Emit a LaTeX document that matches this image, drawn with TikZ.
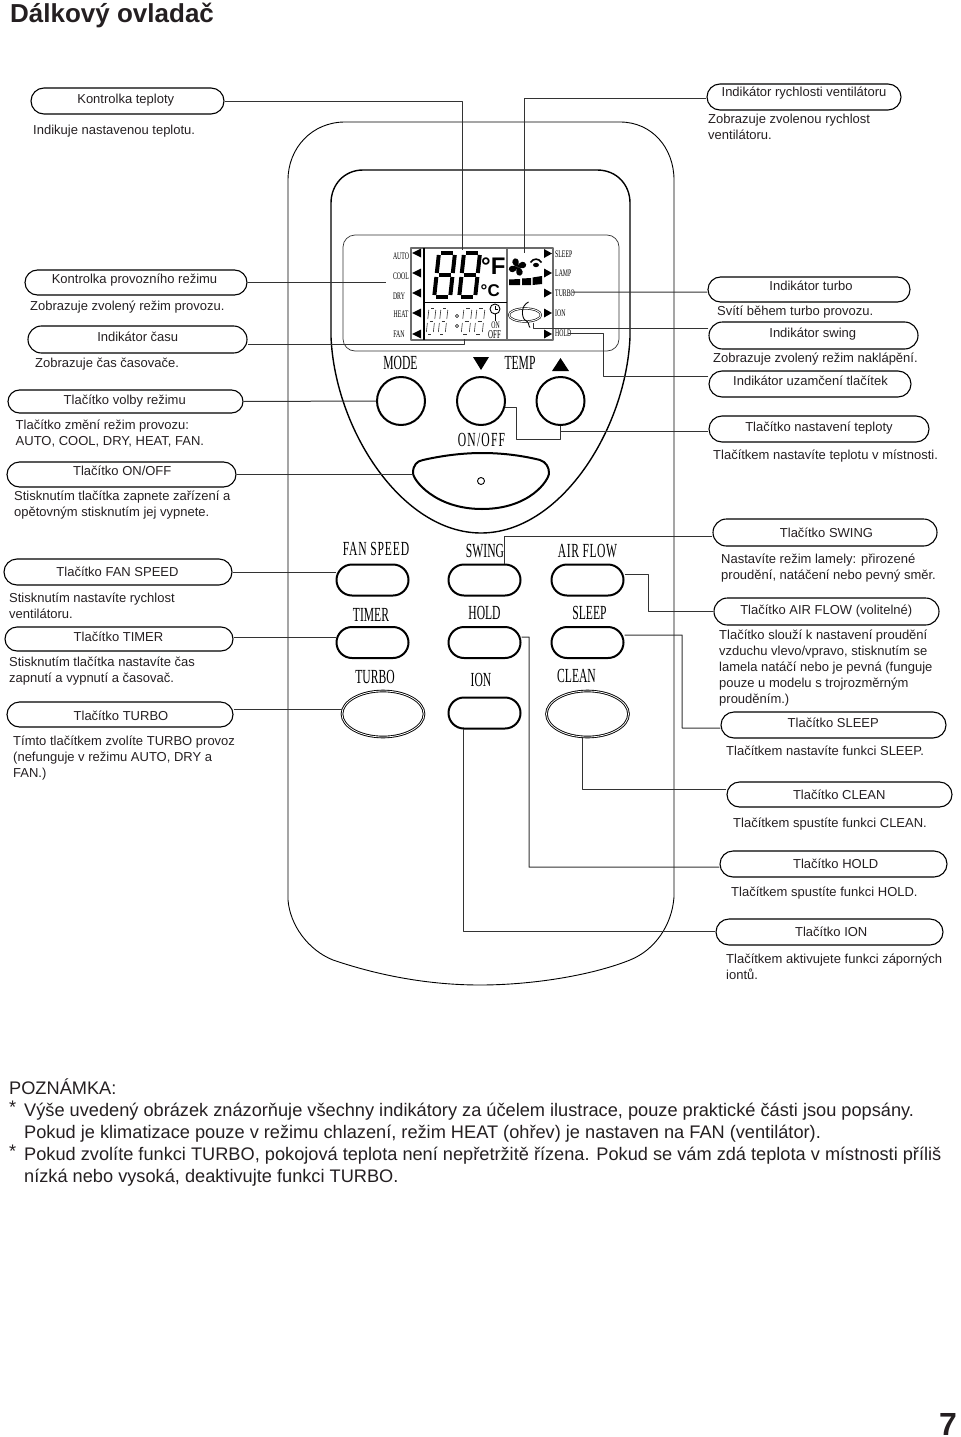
\documentclass[tikz,border=0pt]{standalone}
\usepackage{fontspec}
\setmainfont{Liberation Sans}
\newfontfamily\remotefont[FakeStretch=0.58]{Liberation Serif}
\usetikzlibrary{shapes.misc,shapes.geometric}
\definecolor{textcol}{rgb}{0.14,0.12,0.13}
\definecolor{linecol}{rgb}{0.2,0.2,0.2}
\definecolor{framecol}{rgb}{0.42,0.42,0.42}
\tikzset{
  pill/.style={draw=black,line width=1.1bp,rounded rectangle,inner sep=0pt,text=textcol,
    font=\fontsize{13bp}{16bp}\selectfont,text height=9bp,text depth=3bp},
  desc/.style={anchor=north west,inner sep=0pt,yshift=11.2bp,align=left,text=textcol,
    font=\fontsize{13bp}{16bp}\selectfont,execute at begin node=\strut},
  note/.style={anchor=north west,inner sep=0pt,yshift=15.4bp,align=left,text=textcol,
    font=\fontsize{18.2bp}{22bp}\selectfont,execute at begin node=\strut},
  lead/.style={draw=linecol,line width=1bp},
  body/.style={draw=black,line width=0.9bp},
  panel/.style={draw=black,line width=1.4bp},
  roundbtn/.style={draw=black,line width=2bp,circle,inner sep=0pt,minimum size=48bp},
  longbtn/.style={draw=black,line width=2bp,rounded rectangle,inner sep=0pt,minimum width=72bp,minimum height=31bp},
  ovalbtn/.style={draw=black,line width=0.9bp,double,double distance=0.8bp,ellipse,inner sep=0pt,minimum width=82bp,minimum height=46bp},
  bigkey/.style={anchor=base,inner sep=0pt,font=\remotefont\fontsize{20bp}{20bp}\selectfont},
  smallkey/.style={anchor=base,inner sep=0pt,font=\remotefont\fontsize{10bp}{10bp}\selectfont},
  rightkey/.style={smallkey,anchor=base west},
  bigseg/.style={line width=4bp},
  smallseg/.style={draw=linecol,line width=0.6bp,double,double distance=1.3bp},
}
% digit of the display: top left x, top y, width, height, style
\newcommand{\segdigit}[5]{%
  \begin{scope}[shift={(#1,#2)},xslant=0.11,#5]
    \draw (2,0) -- ({#3-2},0);
    \draw (2,{#4/2}) -- ({#3-2},{#4/2});
    \draw (2,#4) -- ({#3-2},#4);
    \draw (0,2) -- (0,{#4/2-2});
    \draw (0,{#4/2+2}) -- (0,{#4-2});
    \draw (#3,2) -- (#3,{#4/2-2});
    \draw (#3,{#4/2+2}) -- (#3,{#4-2});
  \end{scope}}
% label box: name, x1, y1, x2, y2, text centre, text baseline, text
\newcommand{\pillnode}[8]{%
  \pgfmathsetmacro{\pillw}{#4-#2}\pgfmathsetmacro{\pillh}{#5-#3}%
  \pgfmathsetmacro{\pilldx}{#6-(#2+#4)/2}\pgfmathsetmacro{\pilldy}{(#3+#5)/2+3-#7}%
  \node[pill,minimum width=\pillw bp,minimum height=\pillh bp] (#1) at ({(#2+#4)/2},{(#3+#5)/2})
    {\raisebox{\pilldy bp}{\makebox[0pt]{\hspace{\pilldx bp}#8}}};}
\begin{document}
\begin{tikzpicture}[x=1bp,y=-1bp,line join=round]
  \useasboundingbox (0,0) rectangle (960,1437);
  % Node: title
  \node[anchor=base west,inner sep=0pt,text=textcol,font=\bfseries\fontsize{26bp}{28bp}\selectfont] (title) at (10,22.7) {Dálkový ovladač};
  \node[anchor=base west,inner sep=0pt,text=textcol,font=\bfseries\fontsize{32bp}{34bp}\selectfont] (pagenum) at (939,1435) {7};
  % Remote outline
  \draw[body] (345,122) -- (620,122) .. controls (652,122) and (674,148) .. (674,180) -- (674,897)
    .. controls (672,925) and (655,950) .. (630,960) .. controls (590,976) and (530,985) .. (480,985)
    .. controls (430,985) and (380,976) .. (333,960) .. controls (308,950) and (290,925) .. (288,900)
    -- (288,180) .. controls (288,148) and (312,122) .. (345,122) -- cycle;
  \draw[panel] (363,170) -- (597,170) .. controls (617,170) and (630,185) .. (630,203) -- (630,337)
    .. controls (626,430) and (560,533) .. (481,533) .. controls (402,533) and (335,430) .. (331,337)
    -- (331,203) .. controls (331,185) and (344,170) .. (363,170) -- cycle;
  \draw[draw=linecol,line width=0.7bp,rounded corners=12bp] (343,235) rectangle (619,351);
  % Display
  \draw[draw=framecol,line width=1.6bp] (411,248) rectangle (553,340);
  \draw[line width=1.6bp] (424,248) -- (424,340);
  \draw[draw=framecol,line width=1.3bp] (507,248) -- (507,340);
  \draw[line width=1bp] (424,302) -- (507,302);
  % Display: arrows
  \fill (412,253) -- (421,248.5) -- (421,257.5) -- cycle;
  \fill (412,273) -- (421,268.5) -- (421,277.5) -- cycle;
  \fill (412,293) -- (421,288.5) -- (421,297.5) -- cycle;
  \fill (412,313) -- (421,308.5) -- (421,317.5) -- cycle;
  \fill (412,334) -- (421,329.5) -- (421,338.5) -- cycle;
  \fill (552,253.5) -- (544,249) -- (544,258) -- cycle;
  \fill (552,273) -- (544,268.5) -- (544,277.5) -- cycle;
  \fill (552,293) -- (544,288.5) -- (544,297.5) -- cycle;
  \fill (552,313) -- (544,308.5) -- (544,317.5) -- cycle;
  \fill (552,334) -- (544,329.5) -- (544,338.5) -- cycle;
  % Display: digits
  \segdigit{439}{253}{16}{44}{bigseg}
  \segdigit{464}{253}{16}{44}{bigseg}
  \segdigit{429}{308}{7}{26}{smallseg}
  \segdigit{441}{308}{7}{26}{smallseg}
  \segdigit{464}{308}{8}{26}{smallseg}
  \segdigit{477}{308}{8}{26}{smallseg}
  \draw[draw=linecol,line width=0.6bp] (457,316) circle (1.6) (457,326) circle (1.6);
  \node[anchor=base west,inner sep=0pt,font=\bfseries\fontsize{24bp}{24bp}\selectfont] (degf) at (481,274) {°F};
  \node[anchor=base west,inner sep=0pt,font=\bfseries\fontsize{17bp}{17bp}\selectfont] (degc) at (480.5,296) {°C};
  % Display: fan, wave, bars
  \fill[rotate around={20:(517.5,267)}] (517.5,267) .. controls (512,263) and (514,258) .. (518,258) .. controls (522,259) and (521,264) .. (517.5,267);
  \fill[rotate around={110:(517.5,267)}] (517.5,267) .. controls (512,263) and (514,258) .. (518,258) .. controls (522,259) and (521,264) .. (517.5,267);
  \fill[rotate around={200:(517.5,267)}] (517.5,267) .. controls (512,263) and (514,258) .. (518,258) .. controls (522,259) and (521,264) .. (517.5,267);
  \fill[rotate around={290:(517.5,267)}] (517.5,267) .. controls (512,263) and (514,258) .. (518,258) .. controls (522,259) and (521,264) .. (517.5,267);
  \draw[line width=1.6bp] (530.5,262.5) .. controls (533,258) and (539,258) .. (541.5,262.5);
  \fill (536,265) ellipse (3 and 2.2);
  \fill (509,279.5) -- (520,279) -- (520,285) -- (509,285) -- cycle;
  \fill (522,278.5) -- (531,278) -- (531,285) -- (522,285) -- cycle;
  \fill (532.5,277.5) -- (542,276) -- (542,284) -- (532.5,285) -- cycle;
  % Display: swing, clock
  \draw[line width=0.6bp,double,double distance=1bp] (525,315) ellipse (16 and 6.5);
  \draw[line width=0.9bp] (528.5,302) .. controls (520,306) and (522,318) .. (525,320) .. controls (530,322) and (528,326) .. (530,327.5);
  \draw[line width=0.9bp] (495,309) circle (5);
  \draw[line width=0.8bp] (495,305.5) -- (495,309) -- (498,309);
  \draw[line width=1bp] (495,314) -- (495,321);
  \node[anchor=base,inner sep=0pt,font=\remotefont\fontsize{10bp}{10bp}\selectfont] (lcdon) at (495.5,328.5) {ON};
  \node[anchor=base,inner sep=0pt,font=\remotefont\fontsize{12bp}{12bp}\selectfont] (lcdoff) at (494.5,338) {OFF};
  % Node: display labels
  \node[smallkey] (autokey) at (401,259) {AUTO};
  \node[smallkey] (coolkey) at (401,279) {COOL};
  \node[smallkey] (drykey) at (399,299) {DRY};
  \node[smallkey] (heatkey) at (401,317) {HEAT};
  \node[smallkey] (fankey) at (399,337) {FAN};
  \node[rightkey] (sleepkey) at (555,257) {SLEEP};
  \node[rightkey] (lampkey) at (555,276) {LAMP};
  \node[rightkey] (turbokey) at (555,296) {TURBO};
  \node[rightkey] (ionkey) at (555,316) {ION};
  \node[rightkey] (holdkey) at (555,336) {HOLD};
  % Node: buttons
  \node[bigkey] (modekey) at (400.5,369) {MODE};
  \node[bigkey] (tempkey) at (520,369) {TEMP};
  \fill (473,357) -- (489,357) -- (481,370) -- cycle;
  \fill (552,371) -- (569,371) -- (560.5,358) -- cycle;
  \node[roundbtn] (modebtn) at (401,401) {};
  \node[roundbtn] (tempdownbtn) at (481,401) {};
  \node[roundbtn] (tempupbtn) at (560.5,401) {};
  \node[bigkey] (onoffkey) at (481.5,446) {\addfontfeature{LetterSpace=6}ON/OFF};
  \draw[line width=2bp] (413,473) .. controls (413,465) and (417,461) .. (423,460) .. controls (445,455) and (465,453) .. (482,453)
    .. controls (500,453) and (520,455) .. (540,460) .. controls (546,462) and (549,467) .. (549,473)
    .. controls (549,480) and (530,509) .. (482,509) .. controls (435,509) and (413,480) .. (413,473) -- cycle;
  \coordinate (onoffbtn) at (413,474.5);
  \draw[line width=0.9bp] (481,481) circle (3.5);
  \node[bigkey] (fankey2) at (376,555) {\addfontfeature{LetterSpace=4}FAN SPEED};
  \node[bigkey] (swingkey) at (485,557) {SWING};
  \node[bigkey] (airkey) at (587.5,557) {\addfontfeature{LetterSpace=3}AIR FLOW};
  \node[longbtn] (fanbtn) at (372.5,580) {};
  \node[longbtn] (swingbtn) at (484.5,580) {};
  \node[longbtn] (airbtn) at (587.5,580) {};
  \node[bigkey] (timerkey) at (371,621) {TIMER};
  \node[bigkey] (holdkey2) at (484.5,619) {HOLD};
  \node[bigkey] (sleepkey2) at (589.5,619) {SLEEP};
  \node[longbtn] (timerbtn) at (372.5,642.5) {};
  \node[longbtn] (holdbtn) at (484.5,642.5) {};
  \node[longbtn] (sleepbtn) at (587.5,642.5) {};
  \node[bigkey] (turbokey2) at (375,683) {TURBO};
  \node[bigkey] (ionkey2) at (481,686) {ION};
  \node[bigkey] (cleankey) at (576.5,682) {CLEAN};
  \node[ovalbtn] (turbobtn) at (383,714) {};
  \node[longbtn] (ionbtn) at (484.5,713) {};
  \node[ovalbtn] (cleanbtn) at (587.5,714) {};
  % Node: left column
  \pillnode{ktemp}{31}{88}{224}{114}{124}{103.3}{Kontrolka teploty}
  \node[desc] (ktempd) at (33,134) {Indikuje nastavenou teplotu.};
  \pillnode{kmode}{25}{270}{247}{295}{133}{283}{Kontrolka provozního režimu}
  \node[desc] (kmoded) at (30,310) {Zobrazuje zvolený režim provozu.};
  \pillnode{itime}{28}{326}{247}{353}{138}{341}{Indikátor času}
  \node[desc] (itimed) at (35,367) {Zobrazuje čas časovače.};
  \pillnode{tmode}{8}{390}{243}{413}{124}{404}{Tlačítko volby režimu}
  \node[desc] (tmoded) at (15.5,431) {Tlačítko změní režim provozu:\\AUTO, COOL, DRY, HEAT, FAN.};
  \pillnode{tonoff}{7}{462}{236}{487}{123}{475}{Tlačítko ON/OFF}
  \node[desc] (tonoffd) at (14,502) {Stisknutím tlačítka zapnete zařízení a\\opětovným stisknutím jej vypnete.};
  \pillnode{tfan}{4}{559}{232}{585}{117}{576}{Tlačítko FAN SPEED}
  \node[desc] (tfand) at (9,604) {Stisknutím nastavíte rychlost\\ventilátoru.};
  \pillnode{ttimer}{5}{627}{233}{651}{118}{641}{Tlačítko TIMER}
  \node[desc] (ttimerd) at (9,668) {Stisknutím tlačítka nastavíte čas\\zapnutí a vypnutí a časovač.};
  \pillnode{tturbo}{7}{702}{233}{727}{122}{720}{Tlačítko TURBO}
  \node[desc] (tturbod) at (13,747) {Tímto tlačítkem zvolíte TURBO provoz\\(nefunguje v režimu AUTO, DRY a\\FAN.)};
  % Node: right column
  \pillnode{ifan}{707}{84}{901}{110}{804}{97}{Indikátor rychlosti ventilátoru}
  \node[desc] (ifand) at (708,125) {Zobrazuje zvolenou rychlost\\ventilátoru.};
  \pillnode{iturbo}{708}{277}{910}{302}{813}{290}{Indikátor turbo}
  \node[desc] (iturbod) at (717,315) {Svítí během turbo provozu.};
  \pillnode{iswing}{709}{322}{918}{349}{812}{337}{Indikátor swing}
  \node[desc] (iswingd) at (713,362) {Zobrazuje zvolený režim naklápění.};
  \pillnode{ilock}{709}{371}{911}{397}{811}{385}{Indikátor uzamčení tlačítek}
  \pillnode{ttemp}{709}{416}{929}{442}{819}{431}{Tlačítko nastavení teploty}
  \node[desc] (ttempd) at (713,459) {Tlačítkem nastavíte teplotu v místnosti.};
  \pillnode{tswing}{713}{519}{937}{546}{828}{537}{Tlačítko SWING}
  \node[desc] (tswingd) at (721,565) {Nastavíte režim lamely: přirozené\\proudění, natáčení nebo pevný směr.};
  \pillnode{tair}{714}{598}{939}{625}{826}{614}{Tlačítko AIR FLOW (volitelné)}
  \node[desc] (taird) at (719,641) {Tlačítko slouží k nastavení proudění\\vzduchu vlevo/vpravo, stisknutím se\\lamela natáčí nebo je pevná (funguje\\pouze u modelu s trojrozměrným\\prouděním.)};
  \pillnode{tsleep}{721}{712}{946}{738}{833}{727}{Tlačítko SLEEP}
  \node[desc] (tsleepd) at (726,755) {Tlačítkem nastavíte funkci SLEEP.};
  \pillnode{tclean}{727}{782}{952}{807}{839}{799}{Tlačítko CLEAN}
  \node[desc] (tcleand) at (733,827) {Tlačítkem spustíte funkci CLEAN.};
  \pillnode{thold}{720}{851}{947}{877}{838}{868}{Tlačítko HOLD}
  \node[desc] (tholdd) at (731,896) {Tlačítkem spustíte funkci HOLD.};
  \pillnode{tion}{716}{919}{943}{945}{833}{936}{Tlačítko ION}
  \node[desc] (tiond) at (726,965) {Tlačítkem aktivujete funkci záporných\\iontů.};
  % Node: notes
  \node[note] (notehead) at (9,1094) {POZNÁMKA:};
  \node[note] (staron) at (9,1113) {*};
  \node[note] (noteone) at (24,1118) {Výše uvedený obrázek znázorňuje všechny indikátory za účelem ilustrace, pouze praktické části jsou popsány.\\Pokud je klimatizace pouze v režimu chlazení, režim HEAT (ohřev) je nastaven na FAN (ventilátor).};
  \node[note] (startw) at (9,1157) {*};
  \node[note] (notetwo) at (24,1162) {Pokud zvolíte funkci TURBO, pokojová teplota není nepřetržitě řízena. Pokud se vám zdá teplota v místnosti příliš\\nízká nebo vysoká, deaktivujte funkci TURBO.};
  % free connector ends
  \coordinate (lcdtemp) at (462,250);
  \coordinate (lcdmode) at (386,282.5);
  \coordinate (lcdtime) at (464,339);
  \coordinate (lcdfan) at (524,253);
  \coordinate (lcdturbo) at (572,292);
  \coordinate (lcdswing) at (533,323);
  \coordinate (lcdhold) at (568,333);
  \coordinate (lockbend) at (603,333);
  \coordinate (tempbend) at (516,439);
  \coordinate (swingend) at (504,564);
  \coordinate (airbend) at (648,611.5);
  \coordinate (sleepbend) at (682,635);
  \coordinate (cleanend) at (582,738);
  \coordinate (holdbend) at (529,637);
  \coordinate (ionend) at (463,729);
  % Edge: Kontrolka teploty -> display
  \draw[lead] ([yshift=-1bp]ktemp.east) -| (lcdtemp);
  % Edge: Kontrolka provozniho rezimu -> display
  \draw[lead] (kmode.east) -- (lcdmode);
  % Edge: Indikator casu -> display
  \draw[lead] ([yshift=-4.5bp]itime.east) -| (lcdtime);
  % Edge: Tlacitko volby rezimu -> MODE
  \draw[lead] (tmode.east) -- (modebtn.west);
  % Edge: Tlacitko ON/OFF -> ON/OFF
  \draw[lead] (tonoff.east) -- (onoffbtn);
  % Edge: Tlacitko FAN SPEED -> FAN SPEED
  \draw[lead] (tfan.east) -- (tfan.east -| fanbtn.west);
  % Edge: Tlacitko TIMER -> TIMER
  \draw[lead] ([yshift=2bp]ttimer.east) -- ([yshift=2bp]ttimer.east -| timerbtn.west);
  % Edge: Tlacitko TURBO -> TURBO
  \draw[lead] ([yshift=5.5bp]tturbo.east) -- ([yshift=5.5bp]tturbo.east -| turbobtn.west);
  % Edge: Indikator rychlosti -> display
  \draw[lead] ([yshift=-2bp]ifan.west) -| (lcdfan);
  % Edge: Indikator turbo -> display
  \draw[lead] ([yshift=-2.5bp]iturbo.west) -- (lcdturbo);
  % Edge: Indikator swing -> display
  \draw[lead] ([yshift=7.5bp]iswing.west) -| (lcdswing);
  % Edge: Indikator uzamceni -> display
  \draw[lead] ([yshift=8bp]ilock.west) -| (lockbend) -- (lcdhold);
  % Edge: Tlacitko nastaveni teploty -> TEMP
  \draw[lead] ([yshift=-2bp]ttemp.west) -| (tempupbtn.south);
  \draw[lead] (tempdownbtn.-14) -| (tempbend) -| (tempupbtn.south);
  % Edge: Tlacitko SWING -> SWING
  \draw[lead] ([yshift=-3.5bp]tswing.west) -| (swingend);
  % Edge: Tlacitko AIR FLOW -> AIR FLOW
  \draw[lead] ([yshift=6bp]airbtn.east) -| (airbend) -- (tair.west);
  % Edge: Tlacitko SLEEP -> SLEEP
  \draw[lead] ([yshift=-3bp]tsleep.west) -| (sleepbend) -- ([yshift=7.5bp]sleepbtn.east);
  % Edge: Tlacitko CLEAN -> CLEAN
  \draw[lead] ([yshift=5.5bp]tclean.west) -| (cleanend);
  % Edge: Tlacitko HOLD -> HOLD
  \draw[lead] ([yshift=-3bp]thold.west) -| (holdbend) -- ([yshift=5.5bp]holdbtn.east);
  % Edge: Tlacitko ION -> ION
  \draw[lead] ([yshift=1bp]tion.west) -| (ionend);
\end{tikzpicture}
\end{document}
